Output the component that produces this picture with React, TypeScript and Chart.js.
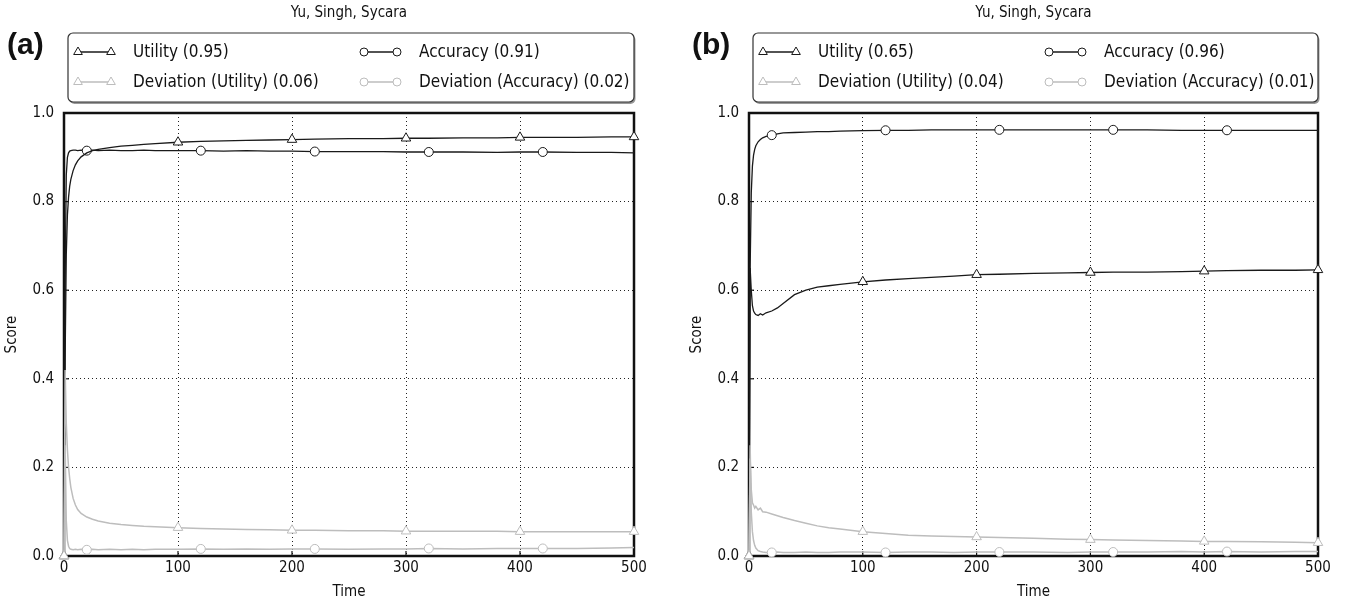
import React, { useEffect, useRef } from 'react';
import { Chart, registerables } from 'chart.js';

Chart.register(...registerables);

const FONT = '"Liberation Sans Narrow", "DejaVu Sans Condensed", "Arial Narrow", sans-serif';
const BOLD_FONT = '"Liberation Sans", Arial, sans-serif';

// ---------- data ----------
const times = [0, 1, 2, 3, 4, 5, 6, 8, 10, 12, 15, 20, 25, 30, 40, 50, 60, 70, 80, 100, 120, 140, 160, 180, 200, 220, 250, 280, 300, 320, 350, 380, 400, 420, 450, 480, 500];

// Panel (a)
const utilityA = [0.0, 0.45, 0.68, 0.77, 0.81, 0.835, 0.85, 0.87, 0.883, 0.892, 0.901, 0.91, 0.915, 0.918, 0.922, 0.925, 0.927, 0.929, 0.931, 0.934, 0.936, 0.937, 0.938, 0.939, 0.94, 0.941, 0.942, 0.942, 0.943, 0.943, 0.944, 0.944, 0.945, 0.945, 0.945, 0.946, 0.946];
const accuracyA = [0.0, 0.62, 0.86, 0.9, 0.91, 0.914, 0.915, 0.916, 0.916, 0.915, 0.916, 0.915, 0.916, 0.915, 0.916, 0.915, 0.915, 0.916, 0.915, 0.915, 0.915, 0.914, 0.915, 0.914, 0.914, 0.913, 0.913, 0.913, 0.912, 0.912, 0.912, 0.911, 0.912, 0.912, 0.911, 0.911, 0.91];
const devUtilityA = [0.0, 0.42, 0.3, 0.24, 0.2, 0.175, 0.155, 0.13, 0.115, 0.105, 0.096, 0.088, 0.083, 0.079, 0.074, 0.071, 0.069, 0.067, 0.066, 0.064, 0.062, 0.061, 0.06, 0.059, 0.058, 0.058, 0.057, 0.057, 0.056, 0.056, 0.056, 0.056, 0.055, 0.055, 0.055, 0.055, 0.055];
const devAccuracyA = [0.0, 0.25, 0.08, 0.035, 0.022, 0.017, 0.015, 0.014, 0.015, 0.014, 0.015, 0.014, 0.015, 0.014, 0.015, 0.014, 0.015, 0.014, 0.015, 0.015, 0.016, 0.015, 0.016, 0.015, 0.016, 0.016, 0.015, 0.016, 0.016, 0.017, 0.016, 0.017, 0.017, 0.017, 0.017, 0.018, 0.019];

// Panel (b)
const utilityB = [0.0, 0.65, 0.6, 0.565, 0.553, 0.548, 0.545, 0.543, 0.547, 0.544, 0.549, 0.553, 0.56, 0.57, 0.59, 0.6, 0.607, 0.61, 0.613, 0.619, 0.623, 0.626, 0.629, 0.632, 0.635, 0.636, 0.638, 0.639, 0.64, 0.641, 0.641, 0.642, 0.643, 0.644, 0.645, 0.645, 0.646];
const accuracyB = [0.0, 0.65, 0.82, 0.88, 0.905, 0.918, 0.926, 0.935, 0.94, 0.944, 0.947, 0.95, 0.953, 0.955, 0.956, 0.957, 0.958, 0.958, 0.959, 0.96, 0.961, 0.961, 0.962, 0.962, 0.962, 0.962, 0.962, 0.962, 0.962, 0.962, 0.962, 0.961, 0.961, 0.961, 0.961, 0.961, 0.961];
const devUtilityB = [0.0, 0.22, 0.15, 0.12, 0.115, 0.108, 0.112, 0.104, 0.108, 0.1, 0.099, 0.095, 0.091, 0.087, 0.08, 0.074, 0.068, 0.064, 0.061, 0.055, 0.051, 0.047, 0.045, 0.044, 0.043, 0.042, 0.04, 0.038, 0.037, 0.036, 0.035, 0.034, 0.033, 0.033, 0.032, 0.031, 0.03];
const devAccuracyB = [0.0, 0.25, 0.1, 0.055, 0.035, 0.024, 0.018, 0.012, 0.01, 0.009, 0.008, 0.008, 0.009, 0.008, 0.008, 0.009, 0.008, 0.008, 0.009, 0.009, 0.008, 0.009, 0.009, 0.008, 0.009, 0.009, 0.009, 0.008, 0.009, 0.009, 0.009, 0.01, 0.009, 0.01, 0.009, 0.01, 0.01];

const triangleTimes = [0, 100, 200, 300, 400, 500];
const circleTimes = [20, 120, 220, 320, 420];
const xTickValues = [0, 100, 200, 300, 400, 500];
const yTickValues = [0, 0.2, 0.4, 0.6, 0.8, 1.0];

const chartTitle = 'Yu, Singh, Sycara';
const xAxisTitle = 'Time';
const yAxisTitle = 'Score';
const seriesNames = ['Utility', 'Accuracy', 'Deviation (Utility)', 'Deviation (Accuracy)'];
const legendValuesA = ['0.95', '0.91', '0.06', '0.02'];
const legendValuesB = ['0.65', '0.96', '0.04', '0.01'];

const BLACK = '#1a1a1a';
const GREY = '#bdbdbd';

// ---------- helpers ----------
function drawMarker(ctx: CanvasRenderingContext2D, style: string, x: number, y: number, r: number, color: string) {
  ctx.save();
  ctx.beginPath();
  if (style === 'triangle') {
    const s = Math.sin(Math.PI / 3) * r;
    ctx.moveTo(x, y - r);
    ctx.lineTo(x + s, y + r / 2);
    ctx.lineTo(x - s, y + r / 2);
    ctx.closePath();
  } else {
    ctx.arc(x, y, r, 0, Math.PI * 2);
  }
  ctx.fillStyle = '#fff';
  ctx.fill();
  ctx.lineWidth = 1;
  ctx.strokeStyle = color;
  ctx.stroke();
  ctx.restore();
}

function roundRect(ctx: CanvasRenderingContext2D, x: number, y: number, w: number, h: number, r: number) {
  ctx.beginPath();
  ctx.moveTo(x + r, y);
  ctx.lineTo(x + w - r, y);
  ctx.arcTo(x + w, y, x + w, y + r, r);
  ctx.lineTo(x + w, y + h - r);
  ctx.arcTo(x + w, y + h, x + w - r, y + h, r);
  ctx.lineTo(x + r, y + h);
  ctx.arcTo(x, y + h, x, y + h - r, r);
  ctx.lineTo(x, y + r);
  ctx.arcTo(x, y, x + r, y, r);
  ctx.closePath();
}

type PanelSpec = {
  label: string;
  series: number[][];
  legendValues: string[];
  yAxisWidth: number;
  rightPad: number;
};

const seriesStyles = [
  { color: BLACK, marker: 'triangle', marks: triangleTimes, width: 1.3, order: 1 },
  { color: BLACK, marker: 'circle', marks: circleTimes, width: 1.3, order: 1 },
  { color: GREY, marker: 'triangle', marks: triangleTimes, width: 1.5, order: 0 },
  { color: GREY, marker: 'circle', marks: circleTimes, width: 1.5, order: 0 },
];

function makeConfig(spec: PanelSpec): any {
  const datasets = spec.series.map((vals, si) => {
    const st = seriesStyles[si];
    return {
      label: seriesNames[si],
      data: times.map((t, i) => ({ x: t, y: vals[i] })),
      borderColor: st.color,
      borderWidth: st.width,
      backgroundColor: st.color,
      pointStyle: st.marker,
      pointRadius: times.map((t) => (st.marks.includes(t) ? (st.marker === 'triangle' ? 5.5 : 4.5) : 0)),
      pointBackgroundColor: '#fff',
      pointBorderColor: st.color,
      pointBorderWidth: 1,
      tension: 0,
      order: st.order,
      clip: false,
      fill: false,
    };
  });

  const decor = {
    id: 'decor',
    beforeDatasetsDraw(chart: any) {
      const { ctx, chartArea: a, scales } = chart;
      ctx.save();
      ctx.strokeStyle = '#111';
      ctx.lineWidth = 1.2;
      for (const v of xTickValues) {
        const px = scales.x.getPixelForValue(v);
        ctx.beginPath();
        ctx.moveTo(px, a.bottom);
        ctx.lineTo(px, a.bottom - 5);
        ctx.stroke();
      }
      for (const v of yTickValues) {
        const py = scales.y.getPixelForValue(v);
        ctx.beginPath();
        ctx.moveTo(a.left, py);
        ctx.lineTo(a.left + 5, py);
        ctx.stroke();
      }
      ctx.lineWidth = 2.5;
      ctx.strokeStyle = '#111';
      ctx.strokeRect(a.left, a.top, a.right - a.left, a.bottom - a.top);
      ctx.restore();
    },
    afterDraw(chart: any) {
      const { ctx, chartArea: a } = chart;
      ctx.save();
      const cx = (a.left + a.right) / 2;
      ctx.fillStyle = '#111';
      ctx.textBaseline = 'middle';
      ctx.textAlign = 'center';
      ctx.font = `15px ${FONT}`;
      ctx.fillText(chartTitle, cx, 13);
      ctx.font = `15px ${FONT}`;
      ctx.fillText(xAxisTitle, cx, 592);
      ctx.save();
      ctx.translate(a.left - 52, (a.top + a.bottom) / 2);
      ctx.rotate(-Math.PI / 2);
      ctx.fillText(yAxisTitle, 0, 0);
      ctx.restore();
      ctx.textAlign = 'left';
      ctx.font = `bold 30px ${BOLD_FONT}`;
      ctx.fillText(spec.label, a.left - 57, 46);
      const bx = a.left + 4;
      const by = 33;
      const bw = a.right - bx;
      const bh = 69;
      ctx.fillStyle = '#999';
      roundRect(ctx, bx + 1.5, by + 2, bw, bh, 5);
      ctx.fill();
      ctx.fillStyle = '#fff';
      roundRect(ctx, bx, by, bw, bh, 5);
      ctx.fill();
      ctx.lineWidth = 1.2;
      ctx.strokeStyle = '#333';
      ctx.stroke();
      const rows = [by + 19, by + 49];
      const cols = [bx, bx + 286];
      ctx.font = `17px ${FONT}`;
      seriesStyles.forEach((st, i) => {
        const col = cols[i % 2];
        const row = rows[Math.floor(i / 2)];
        const x1 = col + 10;
        const x2 = col + 43;
        ctx.strokeStyle = st.color;
        ctx.lineWidth = 1.3;
        ctx.beginPath();
        ctx.moveTo(x1, row);
        ctx.lineTo(x2, row);
        ctx.stroke();
        const r = st.marker === 'triangle' ? 5 : 4;
        drawMarker(ctx, st.marker, x1, row, r, st.color);
        drawMarker(ctx, st.marker, x2, row, r, st.color);
        ctx.fillStyle = '#111';
        ctx.textAlign = 'left';
        ctx.fillText(`${seriesNames[i]} (${spec.legendValues[i]})`, col + 65, row + 1);
      });
      ctx.restore();
    },
  };

  return {
    type: 'line',
    data: { datasets },
    options: {
      animation: false,
      responsive: false,
      events: [],
      layout: { padding: { left: 0, right: spec.rightPad, top: 113, bottom: 0 } },
      plugins: { legend: { display: false }, tooltip: { enabled: false }, title: { display: false } },
      scales: {
        x: {
          type: 'linear',
          min: 0,
          max: 500,
          afterBuildTicks: (s: any) => {
            s.ticks = xTickValues.map((v) => ({ value: v }));
          },
          afterFit: (s: any) => {
            s.height = 50;
          },
          grid: { drawTicks: false, color: '#222', lineWidth: 1 },
          border: { display: false, dash: [1, 3] },
          ticks: { font: { family: FONT, size: 15 }, color: '#111', padding: 3, maxRotation: 0, autoSkip: false },
        },
        y: {
          type: 'linear',
          min: 0,
          max: 1,
          afterBuildTicks: (s: any) => {
            s.ticks = yTickValues.map((v) => ({ value: v }));
          },
          afterFit: (s: any) => {
            s.width = spec.yAxisWidth;
          },
          grid: { drawTicks: false, color: '#222', lineWidth: 1 },
          border: { display: false, dash: [1, 3] },
          ticks: {
            font: { family: FONT, size: 15 },
            color: '#111',
            padding: 10,
            callback: (v: any) => Number(v).toFixed(1),
          },
        },
      },
    },
    plugins: [decor],
  };
}

function Panel({ spec, left, width }: { spec: PanelSpec; left: number; width: number }) {
  const ref = useRef<HTMLCanvasElement>(null);
  useEffect(() => {
    if (!ref.current) return;
    const chart = new Chart(ref.current, makeConfig(spec));
    return () => chart.destroy();
  }, []);
  return (
    <canvas
      ref={ref}
      width={width}
      height={606}
      style={{ position: 'absolute', left, top: 0, width, height: 606 }}
    />
  );
}

const panelA: PanelSpec = {
  label: '(a)',
  series: [utilityA, accuracyA, devUtilityA, devAccuracyA],
  legendValues: legendValuesA,
  yAxisWidth: 64,
  rightPad: 38,
};

const panelB: PanelSpec = {
  label: '(b)',
  series: [utilityB, accuracyB, devUtilityB, devAccuracyB],
  legendValues: legendValuesB,
  yAxisWidth: 77,
  rightPad: 27,
};

export default function App() {
  return (
    <div style={{ position: 'absolute', left: 0, top: 0, width: 1345, height: 606, background: '#fff', overflow: 'hidden' }}>
      <Panel spec={panelA} left={0} width={672} />
      <Panel spec={panelB} left={672} width={673} />
    </div>
  );
}
